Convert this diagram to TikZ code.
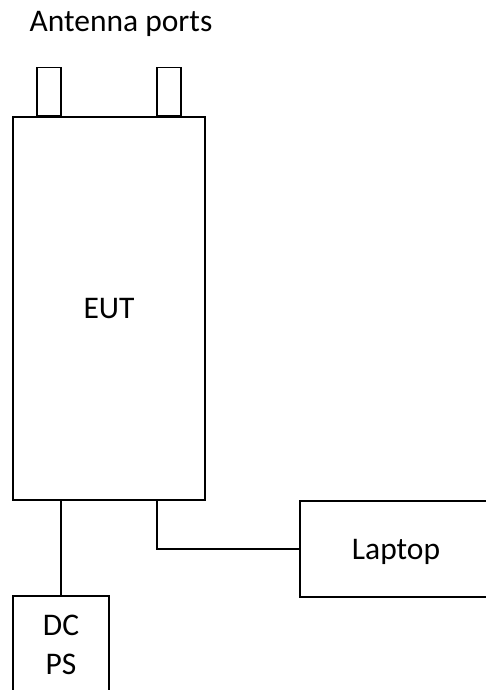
\documentclass[tikz,border=0pt]{standalone}
\usepackage{fontspec}
\setmainfont{Carlito}
\usepackage{tikz}
\usetikzlibrary{positioning}

\begin{document}
\begin{tikzpicture}[
  x=1pt, y=-1pt,
  every node/.style={font=\fontsize{31.5}{39}\selectfont},
  box/.style={draw, line width=1.2pt, inner sep=0pt},
  onebox/.style={box, text depth=0pt},
  port/.style={box, minimum width=24pt, minimum height=48pt, anchor=south west}
]
\useasboundingbox (0,0) rectangle (486,690);

\node (lbl) [anchor=base] at (121,32) {Antenna ports};

\node (eut) [onebox, minimum width=192pt, minimum height=383pt] at (109,308.5) {EUT};
\node (ant1) [port] at ([xshift=24pt]eut.north west) {};
\node (ant2) [port] at ([xshift=144pt]eut.north west) {};

\node (dcps) [box, align=center, minimum width=96pt, minimum height=98pt] at (61,645) {DC\\PS};
\node (laptop) [onebox, minimum width=192pt, minimum height=96pt] at (396,549) {Laptop};

\coordinate (tap) at ([xshift=48pt]eut.south);

\draw[line width=1.2pt] (dcps.north) -- (dcps.north |- eut.south);
\draw[line width=1.2pt] (laptop.west) -| (tap);
\end{tikzpicture}
\end{document}
